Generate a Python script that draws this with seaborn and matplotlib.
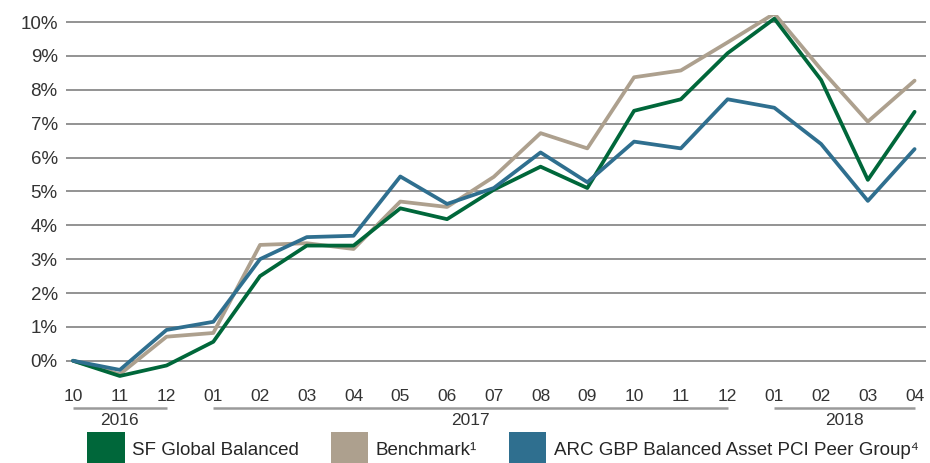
import numpy as np
import pandas as pd
import seaborn as sns
import matplotlib.pyplot as plt
from matplotlib.patches import Patch
import matplotlib.transforms as mtransforms

months = ['10', '11', '12', '01', '02', '03', '04', '05', '06', '07',
          '08', '09', '10', '11', '12', '01', '02', '03', '04']
years = ['2016', '2017', '2018']
year_span = [(0, 2), (3, 14), (15, 18)]

sf_global = [0.0, -0.45, -0.14, 0.56, 2.5, 3.4, 3.4, 4.5, 4.18, 5.05,
             5.73, 5.1, 7.38, 7.72, 9.08, 10.1, 8.29, 5.34, 7.35]
benchmark = [0.0, -0.4, 0.71, 0.82, 3.42, 3.47, 3.3, 4.7, 4.54, 5.43,
             6.72, 6.27, 8.37, 8.57, 9.4, 10.25, 8.6, 7.06, 8.27]
arc_peer = [0.0, -0.27, 0.91, 1.15, 3.0, 3.65, 3.69, 5.44, 4.63, 5.1,
            6.15, 5.27, 6.47, 6.27, 7.72, 7.47, 6.4, 4.72, 6.25]

names = ['SF Global Balanced', 'Benchmark\u00b9', 'ARC GBP Balanced Asset PCI Peer Group\u2074']
colors = ['#00673a', '#ada08e', '#2f6f8f']

df = pd.DataFrame({
    'idx': list(range(len(months))) * 3,
    'value': sf_global + benchmark + arc_peer,
    'series': [names[0]] * len(months) + [names[1]] * len(months) + [names[2]] * len(months),
})

sns.set_style('white')
plt.rcParams['font.family'] = ['Liberation Sans', 'DejaVu Sans']

fig = plt.figure(figsize=(9.3, 4.63), dpi=100)
ax = fig.add_axes([0.071, 0.166, 0.925, 0.801])

# benchmark drawn first, blue last (on top)
order = [names[1], names[0], names[2]]
for nm in order:
    sub = df[df['series'] == nm]
    sns.lineplot(data=sub, x='idx', y='value', color=colors[names.index(nm)],
                 linewidth=2.7, ax=ax, legend=False)

ax.set_ylim(-0.75, 10.2)
ax.set_xlim(-0.15, 18.25)
ax.set_yticks(range(0, 11))
ax.set_yticklabels([f'{i}%' for i in range(0, 11)], fontsize=13.5, color='#333333')
ax.yaxis.grid(True, color='#8a8a8a', linewidth=1.3)
ax.set_axisbelow(True)
ax.set_xticks(range(len(months)))
ax.set_xticklabels(months, fontsize=12.5, color='#333333')
ax.tick_params(axis='both', length=0)
ax.tick_params(axis='x', pad=2)
ax.tick_params(axis='y', pad=6)
ax.set_xlabel('')
ax.set_ylabel('')
for s in ax.spines.values():
    s.set_visible(False)

# year groups under the month labels
trans = mtransforms.blended_transform_factory(ax.transData, ax.transAxes)
for yr, (a, b) in zip(years, year_span):
    ax.plot([a, b], [-0.06, -0.06], transform=trans, color='#9a9a9a',
            linewidth=1.8, clip_on=False, solid_capstyle='butt')
    ax.text((a + b) / 2, -0.072, yr, transform=trans, ha='center', va='top',
            fontsize=12.5, color='#333333')

handles = [Patch(facecolor=c, edgecolor='none') for c in colors]
fig.legend(handles, names, loc='center left', bbox_to_anchor=(0.094, 0.03),
           ncol=3, frameon=False, fontsize=13.5, handlelength=2.0,
           handleheight=2.4, handletextpad=0.4, columnspacing=1.68,
           borderpad=0, borderaxespad=0)

fig.savefig('out.png', dpi=100)
